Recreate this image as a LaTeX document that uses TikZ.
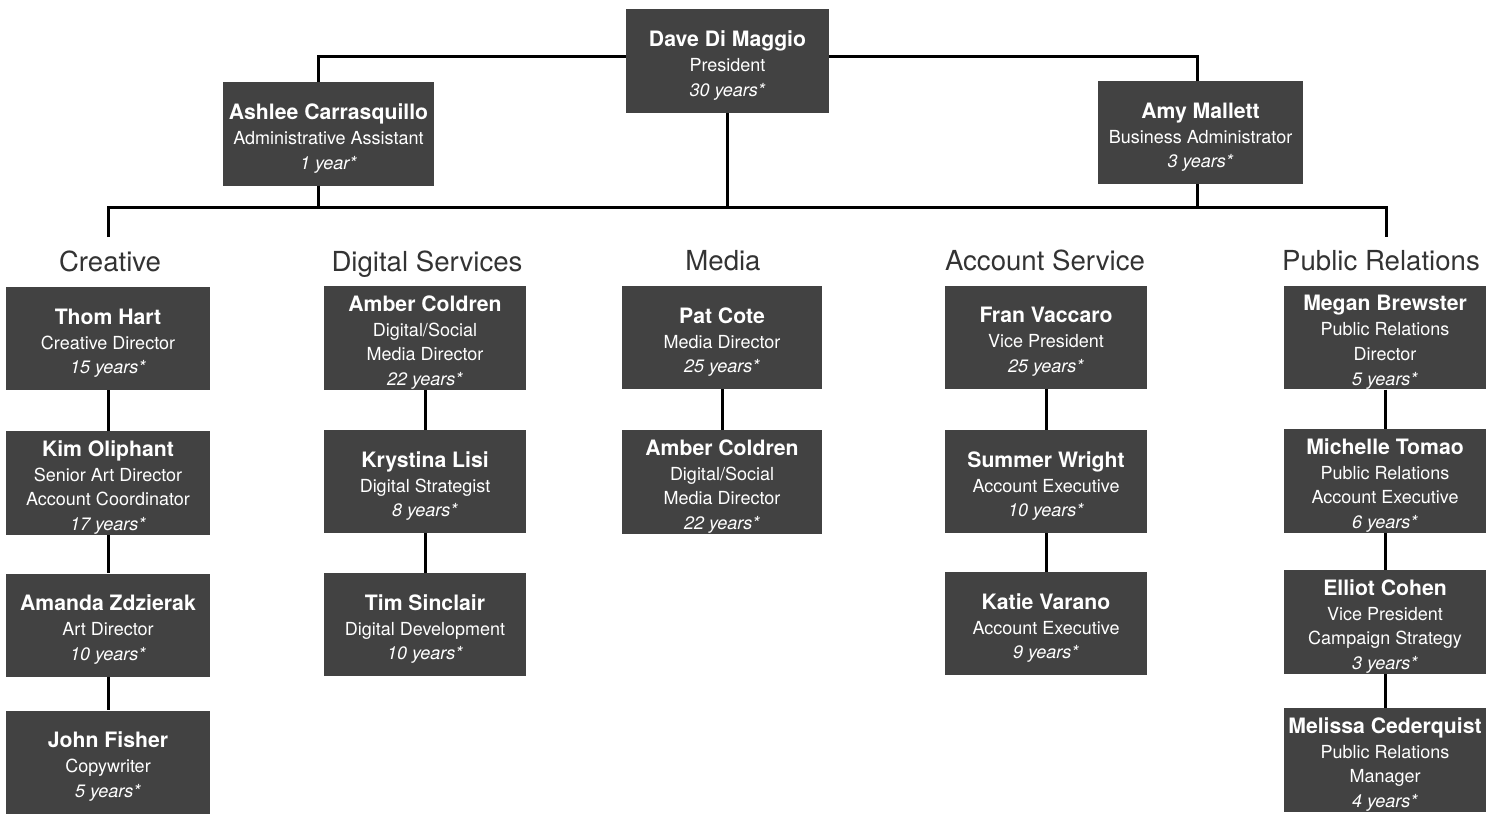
\documentclass[tikz,border=0pt]{standalone}
\usepackage{fontspec}
\setmainfont{TeX Gyre Heros}
\definecolor{boxgray}{RGB}{66,66,66}
\newcommand{\who}[1]{{\rule{0pt}{12.5pt}\fontsize{10.6}{12.4}\selectfont\bfseries #1}}
\begin{document}
\begin{tikzpicture}[x=0.5pt, y=-0.5pt,
  staff/.style={rectangle, fill=boxgray, text=white, align=center, inner sep=0pt,
    minimum width=101pt, minimum height=51.5pt, font=\fontsize{9}{12.4}\selectfont},
  dept/.style={anchor=base, text=black!80, font=\fontsize{13.8}{16}\selectfont},
  link/.style={-, draw=black, line width=1.5pt}]
\useasboundingbox (0,0) rectangle (1497,813);
% top level
\node[staff, minimum width=101.5pt, minimum height=52pt] (Dave) at (727.5,61) {\who{Dave Di Maggio}\\President\\\textit{30 years*}};
\node[staff, minimum width=105.5pt] (Ashlee) at (328.5,134) {\who{Ashlee Carrasquillo}\\Administrative Assistant\\\textit{1 year*}};
\node[staff, minimum width=102.5pt] (Amy) at (1200.5,132.5) {\who{Amy Mallett}\\Business Administrator\\\textit{3 years*}};
% department headings
\node[dept] (hCreative) at (110,271) {Creative};
\node[dept] (hDigital) at (427,271) {Digital Services};
\node[dept] (hMedia) at (723,270) {Media};
\node[dept] (hAccount) at (1045,270) {Account Service};
\node[dept] (hPR) at (1381,270) {Public Relations};
% creative
\node[staff, minimum width=102pt] (Thom) at (108,338.5) {\who{Thom Hart}\\Creative Director\\\textit{15 years*}};
\node[staff, minimum width=102pt] (Kim) at (108,483) {\who{Kim Oliphant}\\Senior Art Director\\Account Coordinator\\\textit{17 years*}};
\node[staff, minimum width=102pt] (Amanda) at (108,625) {\who{Amanda Zdzierak}\\Art Director\\\textit{10 years*}};
\node[staff, minimum width=102pt] (John) at (108,762) {\who{John Fisher}\\Copywriter\\\textit{5 years*}};
% digital services
\node[staff] (AmberD) at (425,338) {\who{Amber Coldren}\\Digital/Social\\Media Director\\\textit{22 years*}};
\node[staff] (Krystina) at (425,481.5) {\who{Krystina Lisi}\\Digital Strategist\\\textit{8 years*}};
\node[staff] (Tim) at (425,624.5) {\who{Tim Sinclair}\\Digital Development\\\textit{10 years*}};
% media
\node[staff, minimum width=100pt] (Pat) at (722,337.5) {\who{Pat Cote}\\Media Director\\\textit{25 years*}};
\node[staff, minimum width=100pt] (AmberM) at (722,482) {\who{Amber Coldren}\\Digital/Social\\Media Director\\\textit{22 years*}};
% account service
\node[staff] (Fran) at (1046,337) {\who{Fran Vaccaro}\\Vice President\\\textit{25 years*}};
\node[staff] (Summer) at (1046,481.5) {\who{Summer Wright}\\Account Executive\\\textit{10 years*}};
\node[staff] (Katie) at (1046,623.5) {\who{Katie Varano}\\Account Executive\\\textit{9 years*}};
% public relations
\node[staff] (Megan) at (1385,337.5) {\who{Megan Brewster}\\Public Relations\\Director\\\textit{5 years*}};
\node[staff] (Michelle) at (1385,481) {\who{Michelle Tomao}\\Public Relations\\Account Executive\\\textit{6 years*}};
\node[staff] (Elliot) at (1385,622) {\who{Elliot Cohen}\\Vice President\\Campaign Strategy\\\textit{3 years*}};
\node[staff] (Melissa) at (1385,760) {\who{Melissa Cederquist}\\Public Relations\\Manager\\\textit{4 years*}};
% connectors
\coordinate (ashTop) at ([xshift=-5pt]Ashlee.north);
\coordinate (ashBot) at ([xshift=-5pt]Ashlee.south);
\coordinate (davL) at ([yshift=2pt]Dave.west);
\coordinate (davR) at ([yshift=2pt]Dave.east);
\coordinate (bus) at (727,207);
\coordinate (busL) at (108,237);
\coordinate (busR) at (1386,237);
\draw[link] (ashTop) |- (davL);
\draw[link] (davR) -| ([xshift=-1.5pt]Amy.north);
\draw[link] (busL) |- (bus) -| (busR);
\draw[link] (Dave.south) -- (Dave.south |- bus);
\draw[link] (ashBot) -- (ashBot |- bus);
\draw[link] ([xshift=-1.5pt]Amy.south) -- ([xshift=-1.5pt]Amy.south |- bus);
\path [link] (Thom) edge (Kim);
\path [link] (Kim) edge (Amanda);
\path [link] (Amanda) edge (John);
\path [link] (AmberD) edge (Krystina);
\path [link] (Krystina) edge (Tim);
\path [link] (Pat) edge (AmberM);
\path [link] (Fran) edge (Summer);
\path [link] (Summer) edge (Katie);
\path [link] (Megan) edge (Michelle);
\path [link] (Michelle) edge (Elliot);
\path [link] (Elliot) edge (Melissa);
\end{tikzpicture}
\end{document}
